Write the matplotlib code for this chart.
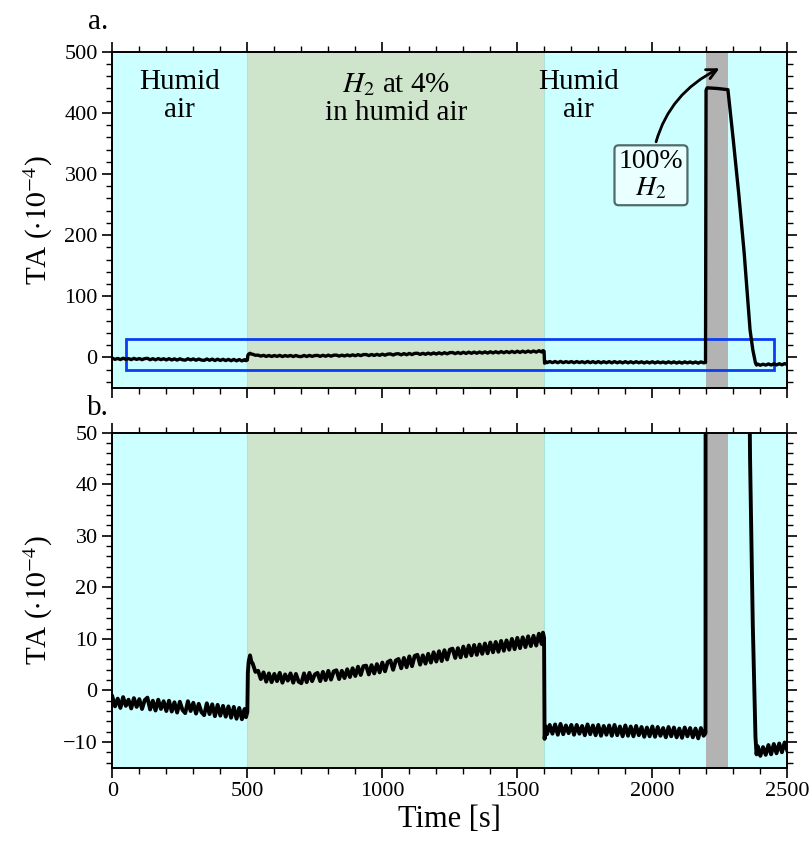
import numpy as np
import matplotlib.pyplot as plt
from matplotlib.patches import Rectangle
from matplotlib.ticker import MultipleLocator

plt.rcParams['font.family'] = ['Liberation Serif', 'DejaVu Serif']
plt.rcParams['mathtext.fontset'] = 'stix'

# gas phases (s)
humid1 = (0, 500)
h2_4pct = (500, 1600)
humid2 = (1600, 2200)
h2_100 = (2200, 2280)
humid3 = (2280, 2500)

t_a = np.arange(0, 500, 10)
ta_a = [-1.2, -3.1, -1.6, -3.4, -1.3, -3.0, -1.8, -3.5, -1.5, -3.2,
        -1.7, -3.6, -1.9, -1.4, -3.7, -2.0, -3.9, -1.8, -3.6, -2.1,
        -4.0, -2.0, -4.1, -2.3, -4.3, -2.2, -3.8, -4.4, -2.1, -4.0,
        -2.4, -4.5, -2.6, -4.2, -4.8, -2.5, -4.6, -2.7, -5.0, -2.8,
        -4.9, -3.0, -5.1, -3.1, -5.3, -3.2, -5.5, -3.4, -5.6, -3.6]

t_step1 = [495, 500, 502, 505, 510, 515, 520, 530, 540, 550]
ta_step1 = [-5.2, -4.2, 3.5, 5.6, 6.8, 5.6, 5.2, 3.6, 3.8, 2.2]

t_b = np.arange(560, 1600, 10)
ta_b = [3.5, 1.7, 3.3, 1.6, 3.2, 1.8, 3.4, 1.5, 3.1, 1.9,
        3.3, 1.5, 3.2, 1.7, 1.4, 3.3, 1.6, 3.4, 1.8, 3.1,
        3.4, 1.8, 3.6, 2.0, 3.8, 2.1, 3.7, 3.9, 2.2, 3.8,
        2.4, 4.1, 2.6, 4.3, 2.8, 4.6, 3.0, 4.7, 4.8, 3.1,
        4.9, 3.3, 5.1, 3.5, 5.4, 3.7, 5.5, 5.8, 4.0, 5.8,
        6.1, 4.3, 6.3, 4.5, 6.6, 4.7, 6.7, 6.9, 5.0, 6.8,
        5.2, 7.1, 5.4, 7.4, 5.6, 7.6, 5.7, 7.8, 6.0, 7.9,
        8.1, 6.3, 8.2, 6.4, 8.5, 6.6, 8.7, 6.8, 8.8, 6.9,
        8.9, 7.1, 9.1, 7.2, 9.3, 7.4, 9.4, 7.5, 9.6, 7.7,
        9.7, 7.9, 10.0, 8.0, 10.2, 8.2, 10.3, 8.4, 10.5, 8.6,
        10.6, 8.7, 11.0, 9.0]

t_step2 = [1595, 1599, 1601, 1605]
ta_step2 = [11.2, 10.2, -9.4, -7.0]

t_c = np.arange(1610, 2200, 10)
ta_c = [-8.5, -6.7, -8.4, -6.6, -8.6, -6.5, -8.5, -6.8, -8.3, -6.7,
        -8.6, -6.7, -8.4, -6.9, -8.7, -6.6, -8.5, -6.8, -8.7, -6.7,
        -8.8, -6.9, -8.6, -6.8, -8.8, -6.7, -8.7, -7.0, -8.9, -6.8,
        -8.8, -7.0, -8.9, -6.9, -8.7, -7.1, -9.0, -7.2, -8.9, -7.0,
        -9.0, -7.1, -8.8, -7.3, -9.1, -7.1, -8.9, -7.2, -9.1, -7.4,
        -9.2, -7.2, -8.9, -7.3, -9.1, -7.4, -9.3, -7.3, -8.8]

t_pulse = [2197, 2199, 2203, 2240, 2280, 2300, 2320, 2340, 2355, 2362,
           2372, 2382, 2386]
ta_pulse = [-8.3, 437, 441, 440, 438, 355, 268, 172, 85, 45, 13, -9, -12.4]

t_d = np.arange(2390, 2501, 10)
ta_d = [-10.8, -12.7, -11.0, -12.5, -10.6, -12.4, -10.4, -12.2, -10.3,
        -12.0, -10.1, -11.7]

t = np.concatenate([t_a, t_step1, t_b, t_step2, t_c, t_pulse, t_d])
ta = np.concatenate([ta_a, ta_step1, ta_b, ta_step2, ta_c, ta_pulse, ta_d])

cyan = '#ccffff'
green = '#cee4cb'
grey = '#b3b3b3'

fig = plt.figure(figsize=(8.11, 8.43), dpi=100)
ax1 = fig.add_axes([0.1385, 0.5397, 0.8323, 0.3989])
ax2 = fig.add_axes([0.1385, 0.0893, 0.8323, 0.3974])

for ax, lw in ((ax1, 2.4), (ax2, 2.8)):
    for span, c in ((humid1, cyan), (h2_4pct, green), (humid2, cyan),
                    (h2_100, grey), (humid3, cyan)):
        ax.axvspan(span[0], span[1], color=c, lw=0, zorder=0)
    ax.axvline(500, color='#a8e6d8', lw=0.8, zorder=0.5)
    ax.axvline(1600, color='#a8e6d8', lw=0.8, zorder=0.5)
    ax.plot(t, ta, color='k', lw=lw, zorder=3)
    ax.set_xlim(0, 2500)
    ax.xaxis.set_major_locator(MultipleLocator(500))
    ax.xaxis.set_minor_locator(MultipleLocator(100))
    ax.tick_params(which='both', direction='out', top=True, right=True,
                   labelsize=16, width=1.2)
    ax.tick_params(which='major', length=7)
    ax.tick_params(which='minor', length=4, width=1)
    for s in ax.spines.values():
        s.set_linewidth(1.4)
    ax.set_ylabel(r'TA ($\cdot 10^{-4}$)', fontsize=21)
    ax.yaxis.set_label_coords(-0.085, 0.5)

ax1.set_ylim(-50, 500)
ax1.yaxis.set_major_locator(MultipleLocator(100))
ax1.yaxis.set_minor_locator(MultipleLocator(20))
ax1.tick_params(labelbottom=False)

ax2.set_ylim(-15, 50)
ax2.yaxis.set_major_locator(MultipleLocator(10))
ax2.yaxis.set_minor_locator(MultipleLocator(2))
ax2.set_xlabel('Time [s]', fontsize=22, labelpad=3)

# zoom window shown in panel b
ax1.add_patch(Rectangle((50, -20), 2400, 50, fill=False,
                        edgecolor='#0a3cf5', lw=2, zorder=2))

ax1.text(250, 427, 'Humid\nair', ha='center', va='center', fontsize=21,
         linespacing=1.1)
ax1.text(1050, 423, '$H_2$ at 4%\nin humid air', ha='center', va='center',
         fontsize=21, linespacing=1.1)
ax1.text(1725, 427, 'Humid\nair', ha='center', va='center', fontsize=21,
         linespacing=1.1)
ax1.annotate('100%\n$H_2$', xy=(2258, 475), xytext=(1995, 298),
             ha='center', va='center', fontsize=20, linespacing=1.05,
             bbox=dict(boxstyle='round,pad=0.15', fc='#eaffff',
                       ec='#4f6b6b', lw=1.6),
             arrowprops=dict(arrowstyle='->', connectionstyle='arc3,rad=-0.3',
                             lw=2, color='k', mutation_scale=18))

fig.text(0.121, 0.974, 'a.', fontsize=21, ha='center', va='center')
fig.text(0.121, 0.516, 'b.', fontsize=21, ha='center', va='center')

fig.savefig('out.png', dpi=100)
